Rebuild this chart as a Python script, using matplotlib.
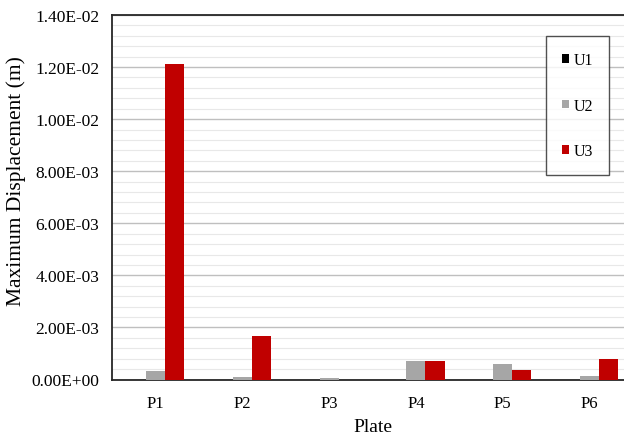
import matplotlib
matplotlib.use("Agg")
import matplotlib.pyplot as plt
import numpy as np
from matplotlib.ticker import FuncFormatter, MultipleLocator

# Maximum displacement per plate for each direction (m)
plates = ["P1", "P2", "P3", "P4", "P5", "P6"]
u1 = [0.0, 0.0, 0.0, 0.0, 0.0, 0.0]
u2 = [3.2e-4, 8.0e-5, 4.0e-5, 7.1e-4, 6.1e-4, 1.2e-4]
u3 = [1.21e-2, 1.67e-3, 0.0, 7.1e-4, 3.6e-4, 7.8e-4]

series = [("U1", u1, "#000000"), ("U2", u2, "#a6a6a6"), ("U3", u3, "#c00000")]

plt.rcParams["font.family"] = ["Liberation Serif", "DejaVu Serif"]

fig = plt.figure(figsize=(6.24, 4.39), dpi=100)
ax = fig.add_axes([112 / 624, 1 - 380.5 / 439, 521 / 624, 364.5 / 439])

x = np.arange(len(plates))
w = 0.22
for i, (name, vals, col) in enumerate(series):
    ax.bar(x + (i - 1) * w, vals, width=w, color=col, label=name, zorder=3)

ax.set_xlim(-0.5, len(plates) - 0.5)
ax.set_ylim(0, 0.014)
ax.yaxis.set_major_locator(MultipleLocator(0.002))
ax.yaxis.set_minor_locator(MultipleLocator(0.0004))
ax.yaxis.set_major_formatter(FuncFormatter(lambda v, _: f"{v:.2E}"))
ax.grid(axis="y", which="major", color="#bfbfbf", linewidth=1.0, zorder=0)
ax.grid(axis="y", which="minor", color="#e8e8e8", linewidth=0.8, zorder=0)

ax.set_xticks(x)
ax.set_xticklabels(plates)
ax.tick_params(axis="both", which="both", length=0, colors="#000000")
ax.tick_params(axis="x", pad=11, labelsize=12)
ax.tick_params(axis="y", pad=9, labelsize=12.5)

ax.spines["right"].set_visible(False)
for side in ["left", "bottom", "top"]:
    ax.spines[side].set_color("#262626")
    ax.spines[side].set_linewidth(1.3)

ax.set_xlabel("Plate", fontsize=14, labelpad=5)
ax.set_ylabel("Maximum Displacement (m)", fontsize=15.5)
ax.yaxis.set_label_coords(-0.165, 0.547)

leg = ax.legend(loc="upper right", bbox_to_anchor=(609 / 624, 1 - 37 / 439),
                bbox_transform=fig.transFigure, frameon=True, fancybox=False,
                fontsize=11.5, handlelength=0.45, handleheight=0.45,
                handletextpad=0.3, labelspacing=1.85, borderpad=1.0,
                borderaxespad=0)
leg.get_frame().set_edgecolor("#262626")
leg.get_frame().set_linewidth(1.0)

fig.savefig("out.png", dpi=100)
